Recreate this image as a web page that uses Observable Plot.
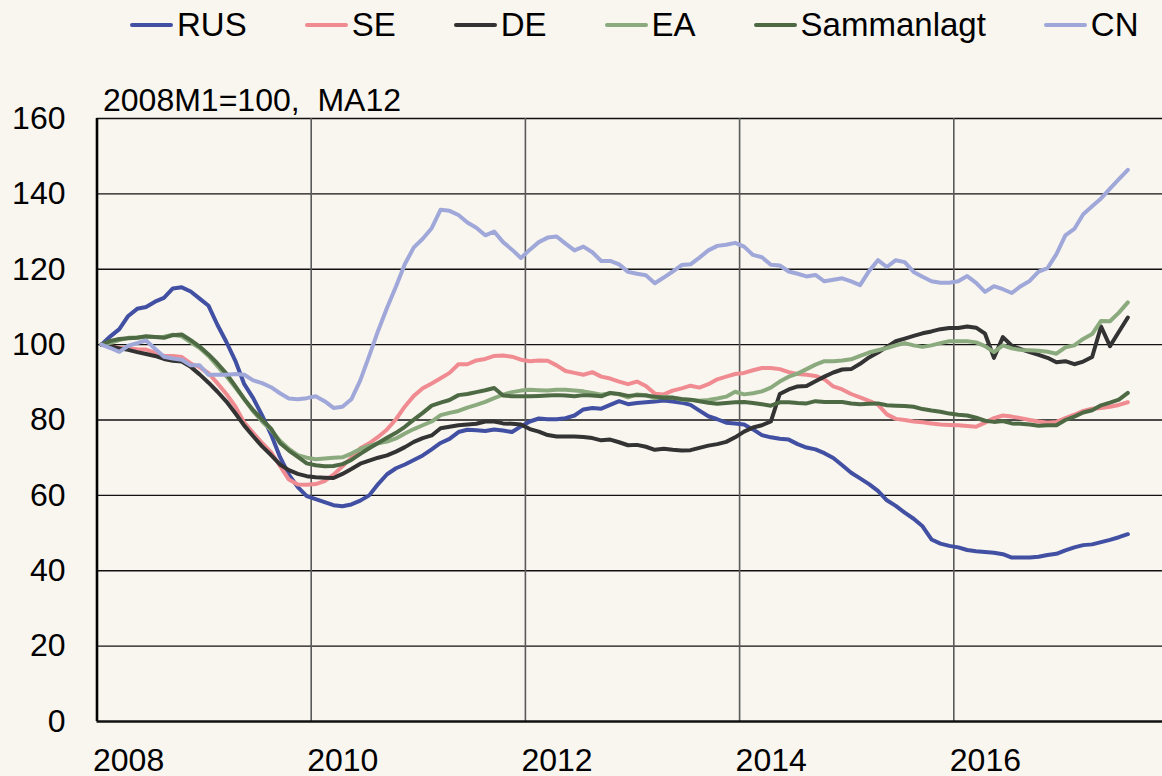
<!DOCTYPE html>
<html>
<head>
<meta charset="utf-8">
<script src="https://cdn.jsdelivr.net/npm/d3@7"></script>
<script src="https://cdn.jsdelivr.net/npm/@observablehq/plot@0.6"></script>
<style>
  html, body { margin: 0; padding: 0; background: #f9f5ef; }
  body { width: 1162px; height: 776px; overflow: hidden; font-family: "Liberation Sans", Arial, sans-serif; }
  #legend { display: flex; align-items: center; height: 50px; padding-left: 130px; column-gap: 58px; font-size: 33px; color: #000; }
  #legend .item { display: flex; align-items: center; white-space: nowrap; }
  #legend .sw { display: inline-block; width: 43px; height: 4px; border-radius: 2px; margin-right: 4px; }
</style>
</head>
<body>
<div id="legend"></div>
<div id="chart"></div>
<script>
// Monthly series, 2008M1 .. 2017M8 (2008M1 = 100, 12-month moving average)
const startYear = 2008;
const seriesNames = ["RUS", "SE", "DE", "EA", "Sammanlagt", "CN"];
const seriesColors = ["#4150a2", "#f08c91", "#333333", "#8bab7e", "#4e6a44", "#a0a8d9"];

const RUS = [100, 102.2, 104.1, 107.6, 109.5, 110, 111.4, 112.4, 114.9, 115.2, 114.1, 112.2, 110.3, 105.2, 100.7, 95.7, 89.5, 85.8, 81.2, 76.2, 70.2, 65.5, 62.2, 59.8,
  59, 58.2, 57.4, 57.1, 57.6, 58.6, 60, 63, 65.6, 67.2, 68.2, 69.4, 70.6, 72.2, 73.9, 75, 76.8, 77.4, 77.3, 77.1, 77.5, 77.2, 76.8, 78.3,
  79.6, 80.4, 80.2, 80.2, 80.5, 81.2, 82.8, 83.2, 83, 84, 85, 84.2, 84.5, 84.7, 84.9, 85.2, 84.9, 84.6, 84, 82.5, 81, 80.2, 79.3, 79.1,
  78.8, 77.5, 76, 75.4, 75, 74.8, 73.6, 72.7, 72.2, 71.2, 69.9, 68, 66, 64.5, 63, 61.2, 58.7, 57.2, 55.4, 53.8, 51.8, 48.3, 47.2,
  46.6, 46.2, 45.5, 45.2, 45, 44.8, 44.4, 43.5, 43.5, 43.5, 43.7, 44.2, 44.5, 45.4, 46.2, 46.8, 47, 47.6, 48.2, 48.9, 49.7];

const SE = [100, 99.6, 99.2, 99, 98.8, 98.7, 97.9, 97, 97, 96.7, 95, 94, 92.4, 89.7, 86.9, 83.6, 79.3, 76.6, 73.9, 71.5, 67.8, 64.2, 62.9, 62.8,
  63, 63.8, 65.5, 67.7, 70, 72.5, 73.8, 75.5, 77.5, 80.2, 83.6, 86.4, 88.4, 89.7, 91.1, 92.5, 94.8, 94.8, 95.8, 96.2, 97, 97.1, 96.8, 96,
  95.6, 95.8, 95.7, 94.5, 93, 92.5, 92, 92.7, 91.5, 91, 90.2, 89.5, 90.2, 89, 87, 86.8, 87.8, 88.4, 89.1, 88.6, 89.5, 90.8, 91.5, 92.2,
  92.5, 93.2, 93.8, 93.8, 93.5, 92.7, 92.2, 92, 91.7, 90.8, 88.9, 88.1, 86.9, 86, 85.1, 84.1, 81.5, 80.3, 80, 79.6, 79.4, 79.1, 78.8,
  78.7, 78.6, 78.4, 78.2, 79.3, 80.5, 81.2, 80.9, 80.5, 80, 79.6, 79.3, 79.5, 80.5, 81.4, 82.4, 83, 83.2, 83.5, 84, 84.7];

const DE = [100, 99.6, 99, 98.6, 98, 97.5, 97, 96.2, 95.7, 95.5, 94.1, 92.1, 89.9, 87.5, 84.9, 81.8, 78.5, 75.7, 73, 70.7, 68.2, 66.7, 65.7, 65.1,
  64.8, 64.7, 64.6, 65.7, 67, 68.4, 69.2, 70, 70.6, 71.6, 72.8, 74.2, 75.2, 75.9, 77.8, 78.2, 78.6, 78.8, 79, 79.6, 79.6, 79.1, 79, 78.8,
  77.6, 76.9, 76, 75.6, 75.6, 75.6, 75.5, 75.2, 74.6, 74.8, 74.1, 73.3, 73.4, 72.9, 72.1, 72.4, 72.1, 71.9, 72, 72.6, 73.2, 73.6, 74.2, 75.4,
  76.9, 78, 78.6, 79.6, 86.9, 88.1, 88.9, 89, 90.3, 91.5, 92.6, 93.4, 93.5, 94.9, 96.6, 97.9, 99.4, 100.9, 101.6, 102.3, 103, 103.5, 104.1,
  104.4, 104.4, 104.8, 104.5, 102.9, 96.5, 102, 99.7, 98.8, 98, 97.3, 96.5, 95.3, 95.6, 94.8, 95.5, 96.7, 104.8, 99.6, 103.4, 107.2];

const EA = [100, 100.5, 101.2, 101.8, 101.9, 102, 102, 102.1, 102.6, 102.2, 100.6, 99.1, 97, 94.3, 91.6, 88.6, 85.5, 82.3, 79.6, 77.3, 74.5, 72.3, 70.7, 70,
  69.6, 69.8, 70, 70.1, 71.1, 72.3, 73.1, 73.8, 74.3, 75.1, 76.4, 77.6, 78.6, 79.6, 81.3, 81.9, 82.4, 83.3, 84, 84.8, 85.8, 86.7, 87.4, 87.8,
  88, 87.9, 87.8, 88, 88, 87.8, 87.6, 87.2, 86.7, 87.1, 86.8, 86, 86.8, 86.6, 85.8, 86.2, 86, 85.4, 85.3, 85.1, 85.3, 85.7, 86.2, 87.5,
  86.8, 87.1, 87.6, 88.6, 90.2, 91.5, 92.3, 93.5, 94.7, 95.6, 95.6, 95.8, 96.1, 97, 97.9, 98.5, 99.1, 99.8, 100.4, 99.8, 99.4, 99.8, 100.4,
  100.9, 100.9, 100.9, 100.6, 99.6, 98, 99.8, 99, 98.6, 98.5, 98.4, 98.1, 97.6, 99.3, 99.8, 101.5, 102.8, 106.3, 106.2, 108.5, 111.2];

const Sammanlagt = [100, 101, 101.5, 101.7, 101.8, 102.2, 102, 101.8, 102.5, 102.7, 101.2, 99.5, 97.4, 95, 92.3, 89, 85.6, 82.6, 80.1, 77.7, 73.9, 71.9, 70.2, 68.5,
  68, 67.7, 67.8, 68.3, 69.4, 71, 72.5, 73.9, 75.3, 76.6, 78.2, 80.1, 81.9, 83.8, 84.6, 85.3, 86.6, 86.9, 87.4, 87.9, 88.5, 86.5, 86.3, 86.3,
  86.3, 86.4, 86.5, 86.6, 86.5, 86.3, 86.6, 86.5, 86.3, 87.2, 86.9, 86.4, 86.6, 86.5, 86.2, 85.9, 85.9, 85.6, 85.4, 85, 84.6, 84.3, 84.5, 84.7,
  84.8, 84.5, 84.2, 83.8, 84.7, 84.7, 84.5, 84.4, 85, 84.8, 84.8, 84.8, 84.4, 84.2, 84.3, 84.4, 83.9, 83.8, 83.7, 83.5, 82.9, 82.5, 82.2,
  81.7, 81.4, 81.2, 80.6, 79.8, 79.5, 79.7, 79.1, 79, 78.8, 78.5, 78.6, 78.6, 80, 80.9, 82, 82.6, 83.9, 84.6, 85.4, 87.2];

const CN = [100, 99.1, 98.1, 99.7, 100.4, 101.1, 98.9, 96.8, 96.3, 96, 94.5, 94.5, 92, 92, 92, 92.2, 92, 90.5, 89.8, 88.7, 87.1, 85.7, 85.5, 85.8,
  86.3, 85, 83.2, 83.5, 85.5, 90.5, 97, 103.7, 109.8, 115.4, 121.4, 125.8, 128.1, 130.9, 135.8, 135.5, 134.4, 132.4, 131, 129, 130, 127.2, 125.2, 123,
  125.2, 127.2, 128.4, 128.7, 126.8, 125, 126, 124.5, 122.2, 122.2, 121.3, 119.3, 118.8, 118.4, 116.3, 117.8, 119.4, 121.1, 121.3, 123.1, 125, 126.2, 126.5, 127,
  126, 123.8, 123.2, 121.2, 121, 119.4, 118.8, 118.1, 118.5, 116.8, 117.2, 117.6, 116.8, 115.8, 119.5, 122.4, 120.6, 122.4, 121.9, 119.3, 118, 116.8, 116.4,
  116.4, 116.8, 118.2, 116.4, 114, 115.5, 114.7, 113.7, 115.5, 116.9, 119.4, 120.3, 124, 129, 130.7, 134.6, 136.7, 138.8, 141.4, 143.9, 146.4];

const yTicks = [0, 20, 40, 60, 80, 100, 120, 140, 160];
const xTickYears = [2008, 2010, 2012, 2014, 2016];
const subtitle = "2008M1=100,\u00a0 MA12";

const seriesValues = [RUS, SE, DE, EA, Sammanlagt, CN];
seriesValues.forEach((arr, k) => { if (arr.length !== 116) console.error(seriesNames[k] + " length " + arr.length); });

// Long table: each monthly value placed at mid-month
const rows = seriesNames.flatMap((name, k) =>
  seriesValues[k].map((v, i) => ({ s: name, t: startYear + (i + 0.5) / 12, v }))
);

const bg = "#f9f5ef";

// Legend (HTML, above the SVG)
const legend = document.getElementById("legend");
seriesNames.forEach((name, k) => {
  const item = document.createElement("span");
  item.className = "item";
  const sw = document.createElement("span");
  sw.className = "sw";
  sw.style.background = seriesColors[k];
  const lab = document.createElement("span");
  lab.textContent = name;
  item.appendChild(sw);
  item.appendChild(lab);
  legend.appendChild(item);
});

const chart = Plot.plot({
  width: 1162,
  height: 726,
  marginTop: 68,
  marginBottom: 55,
  marginLeft: 96.5,
  marginRight: 0,
  style: { background: bg, fontFamily: "'Liberation Sans', Arial, sans-serif", color: "#000", overflow: "visible" },
  x: { domain: [2008, 2018], range: [96.5, 1167.5], axis: null },
  y: { domain: [0, 160], axis: null },
  color: { domain: seriesNames, range: seriesColors },
  marks: [
    Plot.ruleY(yTicks.filter(d => d > 0), { y: d => d, stroke: "#111", strokeWidth: 1.3 }),
    Plot.ruleX(xTickYears.filter(d => d > 2008), { x: d => d, stroke: "#5a5a5a", strokeWidth: 1.6 }),
    Plot.ruleX([2008], { x: d => d, stroke: "#000", strokeWidth: 2.6 }),
    Plot.ruleY([0], { y: d => d, stroke: "#111", strokeWidth: 2.6 }),
    Plot.line(rows, { x: "t", y: "v", z: "s", stroke: "s", strokeWidth: 4, strokeLinejoin: "round", strokeLinecap: "round" }),
    Plot.text(yTicks, { y: d => d, text: d => String(d), frameAnchor: "left", lineAnchor: "middle", dx: -31.5, textAnchor: "end", fontSize: 32, fill: "#000" }),
    Plot.text(xTickYears, { x: d => d, text: d => String(d), frameAnchor: "bottom", lineAnchor: "middle", dy: 39, dx: -4, textAnchor: "start", fontSize: 32, fill: "#000" }),
    Plot.text([subtitle], { text: d => d, frameAnchor: "top-left", lineAnchor: "middle", dx: 6, dy: -18, textAnchor: "start", fontSize: 32, fill: "#000" })
  ]
});
document.getElementById("chart").appendChild(chart);
</script>
</body>
</html>
